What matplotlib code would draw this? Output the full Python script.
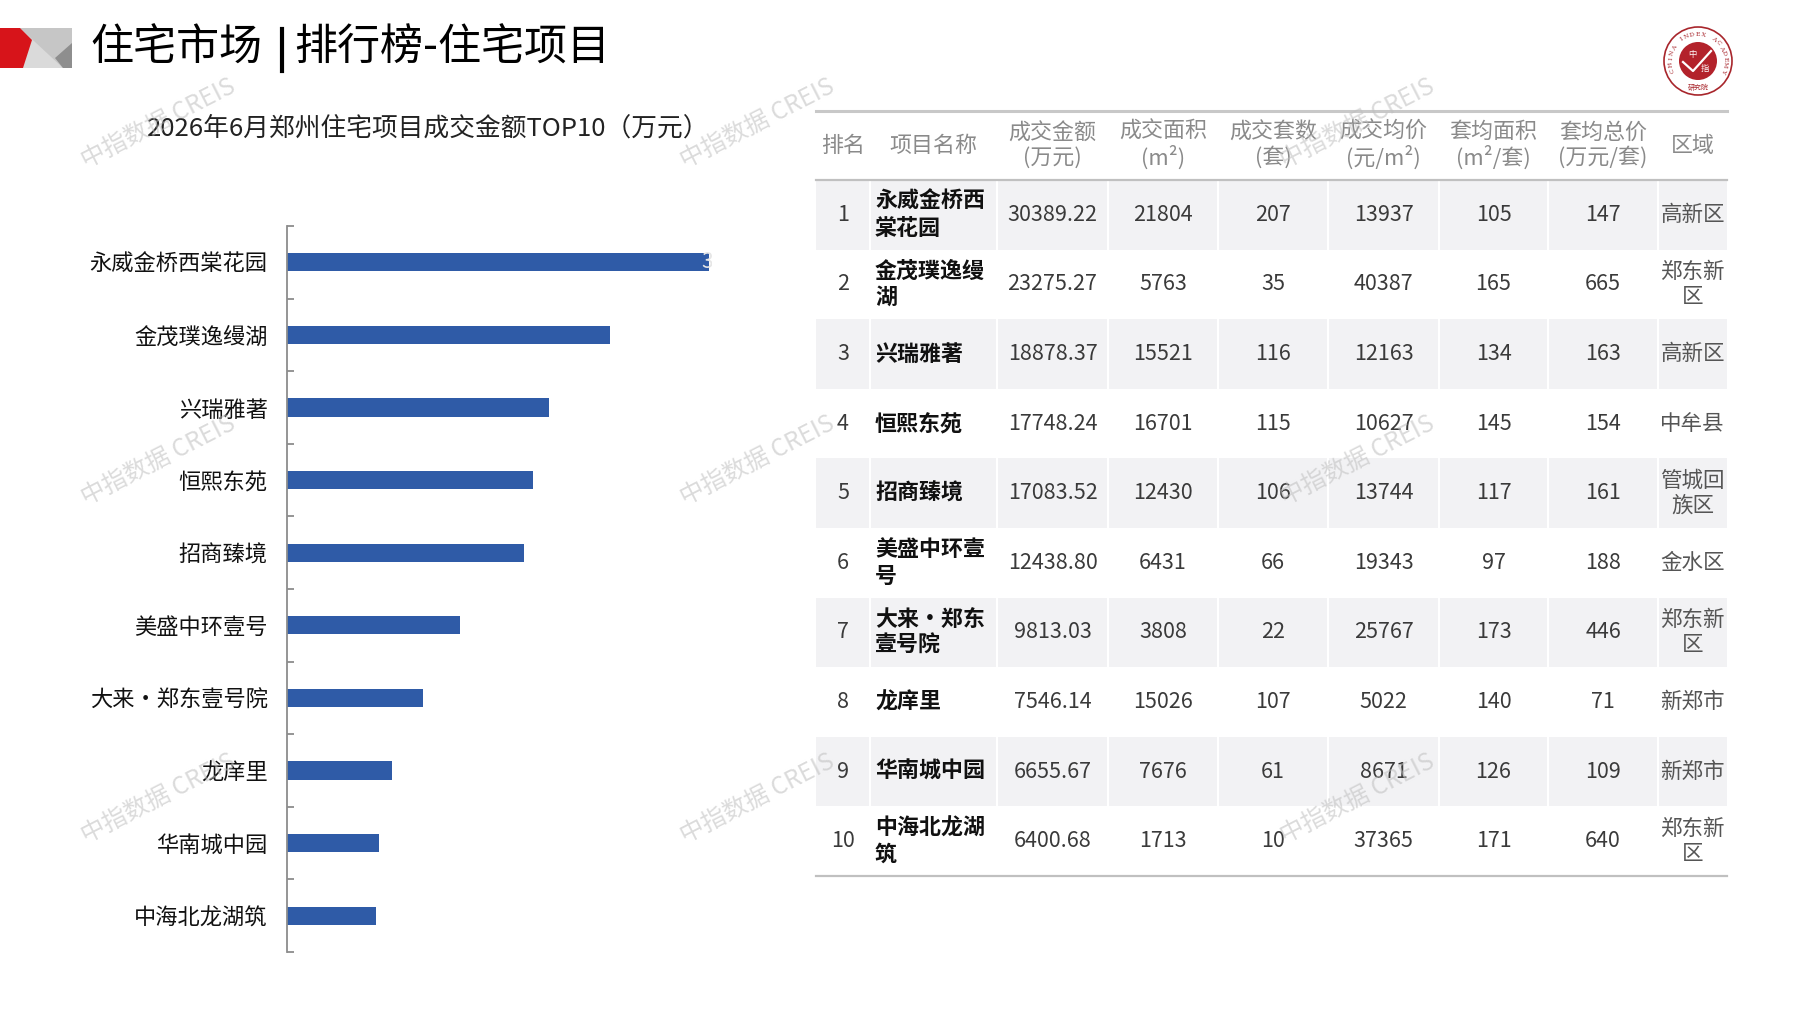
import matplotlib.pyplot as plt
from matplotlib.patches import Polygon, Rectangle, Circle
from matplotlib import transforms
import numpy as np

plt.rcParams['font.family'] = ['Noto Sans CJK SC', 'DejaVu Sans']

W, H = 1797, 1010

# ---- data ----
names = ['永威金桥西棠花园', '金茂璞逸缦湖', '兴瑞雅著', '恒熙东苑', '招商臻境',
         '美盛中环壹号', '大来·郑东壹号院', '龙庠里', '华南城中园', '中海北龙湖筑']
amounts = [30389.22, 23275.27, 18878.37, 17748.24, 17083.52,
           12438.80, 9813.03, 7546.14, 6655.67, 6400.68]
areas = [21804, 5763, 15521, 16701, 12430, 6431, 3808, 15026, 7676, 1713]
units = [207, 35, 116, 115, 106, 66, 22, 107, 61, 10]
avg_price = [13937, 40387, 12163, 10627, 13744, 19343, 25767, 5022, 8671, 37365]
avg_area = [105, 165, 134, 145, 117, 97, 173, 140, 126, 171]
avg_total = [147, 665, 163, 154, 161, 188, 446, 71, 109, 640]
districts = ['高新区', '郑东新区', '高新区', '中牟县', '管城回族区',
             '金水区', '郑东新区', '新郑市', '新郑市', '郑东新区']
headers = ['排名', '项目名称', '成交金额\n(万元)', '成交面积\n(m²)', '成交套数\n(套)',
           '成交均价\n(元/m²)', '套均面积\n(m²/套)', '套均总价\n(万元/套)', '区域']

BAR_COLOR = '#2F5BA7'


def wrap(s, n):
    return '\n'.join(s[i:i + n] for i in range(0, len(s), n))


fig = plt.figure(figsize=(W / 100, H / 100), dpi=100)
fig.patch.set_facecolor('white')

# background axes in pixel units for header and table
bg = fig.add_axes([0, 0, 1, 1])
bg.set_xlim(0, W)
bg.set_ylim(H, 0)
bg.axis('off')

# header corner mark
bg.add_patch(Rectangle((18, 28), 54, 40, color='#C6C6C6', lw=0))
bg.add_patch(Polygon([(20, 28), (63, 68), (18, 68)], closed=True, color='#DADADA', lw=0))
bg.add_patch(Polygon([(55, 58), (72, 43), (72, 68), (63, 68)], closed=True, color='#8E8E8E', lw=0))
bg.add_patch(Polygon([(0, 28), (20, 28), (32, 40), (23, 68), (0, 68)], closed=True,
                     color='#D7141A', lw=0))

bg.text(90, 49, '住宅市场', fontsize=31, va='center', ha='left', color='black')
bg.plot([282, 282], [29, 71], color='black', lw=3)
bg.text(294, 49, '排行榜-住宅项目', fontsize=31, va='center', ha='left', color='black')
bg.text(147, 129, '2026年6月郑州住宅项目成交金额TOP10（万元）', fontsize=18.5, va='center',
        ha='left', color='#222222')

# round logo
cx, cy = 1698, 61
bg.add_patch(Circle((cx, cy), 34, fill=False, ec='#A8262C', lw=1.2))
bg.add_patch(Circle((cx, cy), 19, color='#B3222B', lw=0))
bg.plot([cx - 15, cx - 5, cx + 13], [cy + 1, cy + 10, cy - 10], color='white', lw=1.6)
bg.text(cx - 6, cy - 7, '中', fontsize=6, color='white', ha='center', va='center')
bg.text(cx + 7, cy + 7, '指', fontsize=6, color='white', ha='center', va='center')
bg.text(cx, cy + 27, '研究院', fontsize=5, color='#A8262C', ha='center', va='center')
arc_txt = 'CHINA INDEX ACADEMY'
for k, ch in enumerate(arc_txt):
    a = np.deg2rad(200 - k * 220 / (len(arc_txt) - 1))
    bg.text(cx + 27 * np.cos(a), cy - 27 * np.sin(a), ch, fontsize=4.5, color='#A8262C',
            ha='center', va='center', rotation=np.rad2deg(a) - 90, family='DejaVu Serif')

# ---- table ----
col_edges = [816, 870, 997, 1108, 1218, 1328, 1439, 1548, 1658, 1727]
top, head_bot = 111, 180
row_h = 69.6
n = len(names)
bottom = head_bot + n * row_h

for i in range(n):
    y0 = head_bot + i * row_h
    if i % 2 == 0:
        bg.add_patch(Rectangle((col_edges[0], y0), col_edges[-1] - col_edges[0], row_h,
                               color='#F2F2F4', lw=0, zorder=1))
        for xe in col_edges[1:-1]:
            bg.plot([xe, xe], [y0, y0 + row_h], color='white', lw=1.5, zorder=1.5)

bg.plot([col_edges[0], col_edges[-1]], [top, top], color='#C8C8C8', lw=2.2, zorder=2)
bg.plot([col_edges[0], col_edges[-1]], [head_bot, head_bot], color='#C0C0C0', lw=1.6, zorder=2)
bg.plot([col_edges[0], col_edges[-1]], [bottom, bottom], color='#C0C0C0', lw=1.6, zorder=2)

centers = [(col_edges[j] + col_edges[j + 1]) / 2 for j in range(len(col_edges) - 1)]
for j, hd in enumerate(headers):
    bg.text(centers[j], (top + head_bot) / 2, hd, fontsize=15.8, color='#8A8A8A',
            ha='center', va='center', linespacing=1.15, zorder=3)

for i in range(n):
    yc = head_bot + (i + 0.5) * row_h
    cells = [str(i + 1), None, f'{amounts[i]:.2f}', str(areas[i]), str(units[i]),
             str(avg_price[i]), str(avg_area[i]), str(avg_total[i])]
    for j, c in enumerate(cells):
        if c is None:
            continue
        bg.text(centers[j], yc, c, fontsize=15.5, color='#3A3A3A', ha='center',
                va='center', zorder=3)
    bg.text(col_edges[1] + 5, yc, wrap(names[i], 5), fontsize=15.8, color='#111111',
            ha='left', va='center', linespacing=1.2, fontweight='bold', zorder=3)
    bg.text(centers[8], yc, wrap(districts[i], 3), fontsize=15.5, color='#555555',
            ha='center', va='center', linespacing=1.2, zorder=3)

# ---- bar chart ----
ax_l, ax_r, ax_t, ax_b = 287, 712, 226, 952
ax = fig.add_axes([ax_l / W, 1 - ax_b / H, (ax_r - ax_l) / W, (ax_b - ax_t) / H])
ax.patch.set_alpha(0)
y = np.arange(n)
ax.barh(y, amounts, height=0.25, color=BAR_COLOR, zorder=2)
ax.set_ylim(n - 0.5, -0.5)
ax.set_xlim(0, amounts[0] * (ax_r - ax_l) / (709 - ax_l))
for s in ['top', 'right', 'bottom']:
    ax.spines[s].set_visible(False)
ax.spines['left'].set_color('#8C8C8C')
ax.spines['left'].set_linewidth(1.3)
ax.set_xticks([])
ax.set_yticks(y)
ax.set_yticklabels(names, fontsize=16, color='#111111')
ax.tick_params(axis='y', which='major', length=0, pad=14)
ax.set_yticks(np.arange(-0.5, n, 1), minor=True)
ax.tick_params(axis='y', which='minor', direction='in', length=5, color='#8C8C8C', width=1.3)

off = transforms.offset_copy(ax.transData, fig=fig, x=-8, y=0, units='dots')
ax.text(amounts[0], 0, f'{amounts[0]:.2f}', transform=off, fontsize=15, color='#E6E6E6',
        ha='left', va='center', clip_on=True, zorder=3)

# ---- watermarks ----
for wy in [124, 461, 799]:
    for wx in [158, 757, 1357]:
        fig.text(wx / W, 1 - wy / H, '中指数据 CREIS', fontsize=17.5, color='#BEBEBE',
                 alpha=0.55, rotation=27, ha='center', va='center', rotation_mode='anchor',
                 zorder=10)

fig.savefig('out.png', dpi=100)
